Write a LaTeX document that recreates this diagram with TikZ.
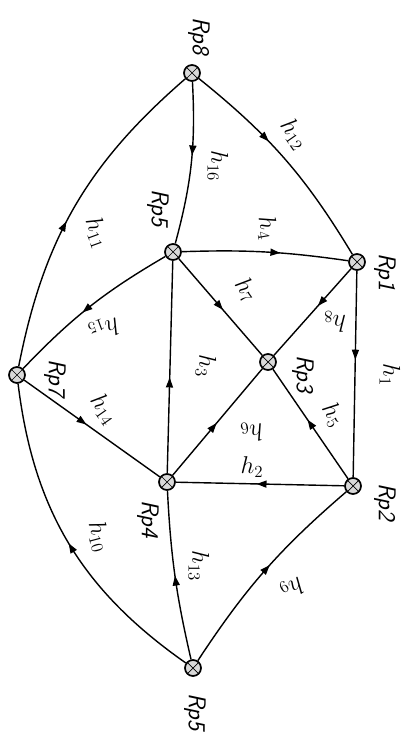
\documentclass[tikz,border=0pt]{standalone}
\usetikzlibrary{arrows.meta,decorations.markings}
\tikzset{
  punkt/.style={circle,draw,line width=1.2pt,minimum size=0.4cm,inner sep=0pt,fill=gray!30,
    path picture={\draw[line width=0.5pt]
      (path picture bounding box.north west) -- (path picture bounding box.south east)
      (path picture bounding box.north east) -- (path picture bounding box.south west);}},
  flow/.style={line width=1pt,postaction={decorate},
    decoration={markings,mark=at position #1 with {\arrow{Triangle[length=7pt,width=5pt]}}}},
  flow/.default=0.5,
  rp/.style={font=\LARGE\sffamily\slshape,rotate=-90,inner sep=1pt},
  hl/.style={font=\LARGE,rotate=#1,inner sep=0pt},
  hl/.default=-90
}
\begin{document}
\begin{tikzpicture}[x=0.025cm,y=-0.025cm]
\useasboundingbox (0,0) rectangle (403,740);

\node[punkt] (rp8) at (192,73) {};
\node[punkt] (rp5) at (173,252) {};
\node[punkt] (rp1) at (357,262) {};
\node[punkt] (rp3) at (268,362) {};
\node[punkt] (rp7) at (17,375) {};
\node[punkt] (rp4) at (167,482) {};
\node[punkt] (rp2) at (353,486) {};
\node[punkt] (rp5b) at (193,668) {};

\node[rp] (lrp8) at (199,36) {Rp8};
\node[rp] (lrp5) at (158,208) {Rp5};
\node[rp] (lrp1) at (385,272) {Rp1};
\node[rp] (lrp3) at (303,374) {Rp3};
\node[rp] (lrp7) at (55,378) {Rp7};
\node[rp] (lrp4) at (148,519) {Rp4};
\node[rp] (lrp2) at (385,502) {Rp2};
\node[rp] (lrp5b) at (195,712) {Rp5};

\draw[flow=0.45] (rp8) to[bend left=9] (rp5);
\draw[flow=0.4] (rp8) to[bend left=10] (rp1);
\draw[flow=0.45] (rp7) to[bend left=19] (rp8);
\draw[flow=0.59] (rp5) to[bend left=5] (rp1);
\draw[flow=0.53] (rp5) -- (rp3);
\draw[flow=0.45] (rp4) -- (rp5);
\draw[flow=0.55] (rp5) to[bend right=8] (rp7);
\draw[flow=0.46] (rp7) -- (rp4);
\draw[flow=0.5] (rp5b) to[bend left=24] (rp7);
\draw[flow=0.43] (rp1) -- (rp3);
\draw[flow=0.43] (rp1) -- (rp2);
\draw[flow=0.54] (rp2) -- (rp3);
\draw[flow=0.52] (rp2) -- (rp4);
\draw[flow=0.49] (rp4) -- (rp3);
\draw[flow=0.5] (rp5b) to[bend left=5] (rp4);
\draw[flow=0.53] (rp5b) to[bend left=8] (rp2);

\node[hl] (h16) at (218,166) {$h_{16}$};
\node[hl=-55] (h12) at (294,134) {$h_{12}$};
\node[hl=-70] (h11) at (97,233) {$h_{11}$};
\node[hl=-80] (h4) at (267,228) {$h_{4}$};
\node[hl=-55] (h7) at (246,290) {$h_{7}$};
\node[hl] (h3) at (206,366) {$h_{3}$};
\node[hl=200] (h15) at (104,329) {$h_{15}$};
\node[hl=-55] (h14) at (104,409) {$h_{14}$};
\node[hl=-75] (h10) at (99,537) {$h_{10}$};
\node[hl=180] (h8) at (335,322) {$h_{8}$};
\node[hl] (h1) at (390,375) {$h_{1}$};
\node[hl=-58] (h5) at (333,415) {$h_{5}$};
\node[hl=0] (h2) at (252,467) {$h_{2}$};
\node[hl=190] (h6) at (252,432) {$h_{6}$};
\node[hl] (h13) at (199,566) {$h_{13}$};
\node[hl=210] (h9) at (292,588) {$h_{9}$};
\end{tikzpicture}
\end{document}
